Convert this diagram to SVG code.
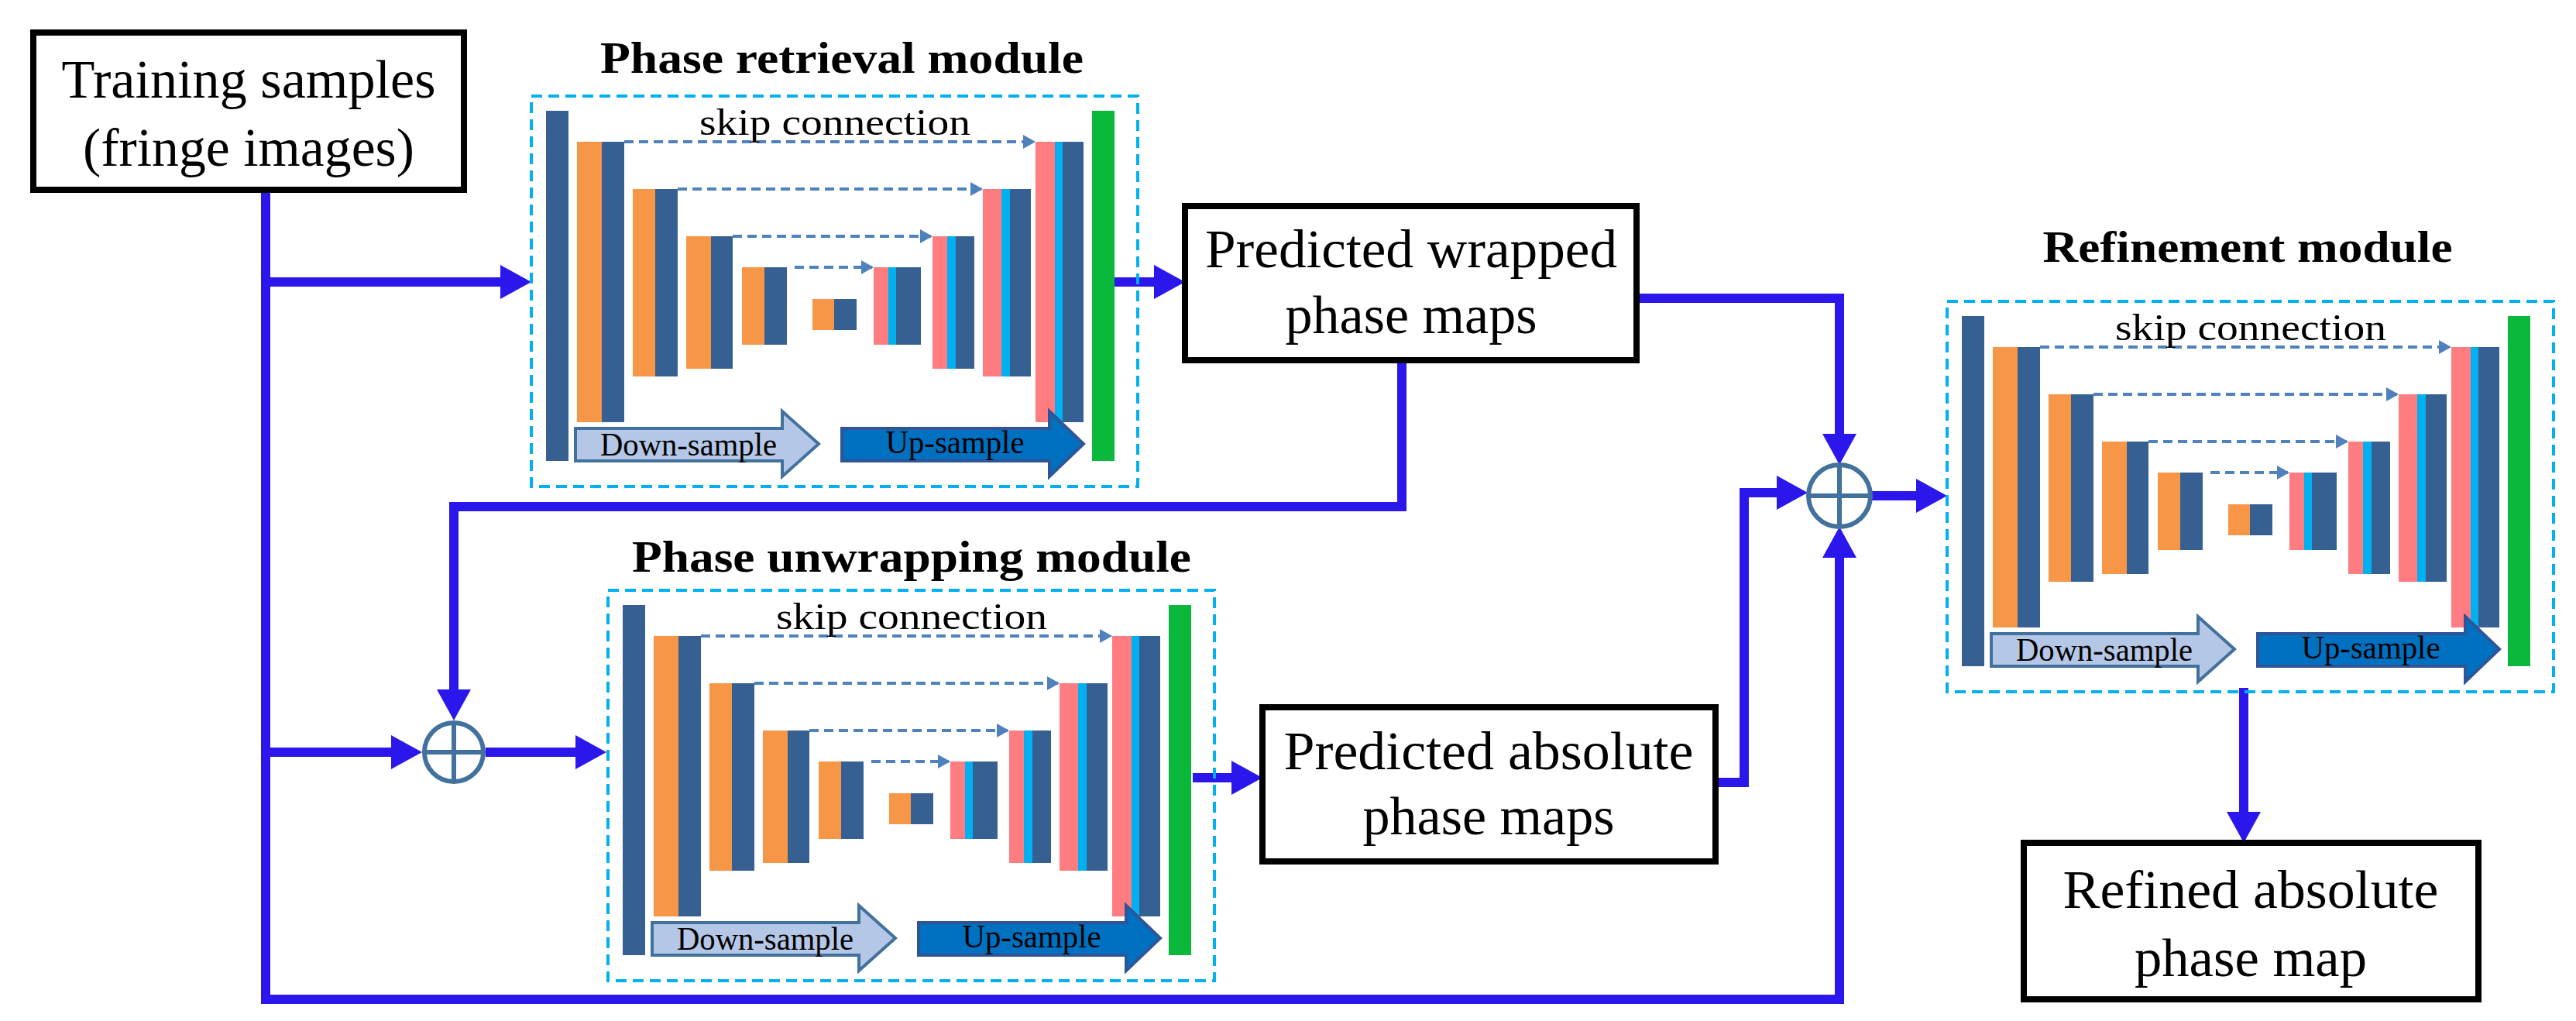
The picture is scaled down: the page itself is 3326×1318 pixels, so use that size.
<svg xmlns="http://www.w3.org/2000/svg" xmlns:xlink="http://www.w3.org/1999/xlink" width="3326" height="1318" viewBox="0 0 3326 1318">
<style>
.box{fill:#fff;stroke:#000;stroke-width:8}
text{font-family:"Liberation Serif",serif;text-anchor:middle;fill:#000}
.t{font-size:70px}
.title{font-size:58px;font-weight:bold}
.sk{font-size:48px}
.ds{font-size:42px}
.dk{fill:#376092}.or{fill:#f79646}.pk{fill:#ff7c80}.cy{fill:#00b0f0}.gr{fill:#0ab83c}
.skip{stroke:#4f81bd;stroke-width:4;stroke-dasharray:12 7;fill:none}
.conn{stroke:#2b17ec;stroke-width:12;fill:none}
.sum{fill:#fff;stroke:#41719c;stroke-width:6}
</style>
<defs>
<marker id="ah" markerUnits="userSpaceOnUse" markerWidth="40" markerHeight="44" refX="28" refY="22" orient="auto"><path d="M0,0 L40,22 L0,44 z" fill="#2b17ec"/></marker>
<marker id="sa" markerUnits="userSpaceOnUse" markerWidth="16" markerHeight="18" refX="14" refY="9" orient="auto"><path d="M0,0 L16,9 L0,18 z" fill="#4f81bd"/></marker>
<g id="unet">
<rect x="686" y="124" width="783" height="504" fill="none" stroke="#00b0f0" stroke-width="4" stroke-dasharray="14 8"/>
<rect class="dk" x="705" y="143" width="29" height="452"/>
<rect class="or" x="745" y="183" width="32" height="362"/><rect class="dk" x="777" y="183" width="29" height="362"/>
<rect class="or" x="817" y="244" width="29" height="242"/><rect class="dk" x="846" y="244" width="29" height="242"/>
<rect class="or" x="886" y="305" width="32" height="171"/><rect class="dk" x="918" y="305" width="28" height="171"/>
<rect class="or" x="958" y="345" width="29" height="100"/><rect class="dk" x="987" y="345" width="29" height="100"/>
<rect class="or" x="1049" y="386" width="28" height="40"/><rect class="dk" x="1077" y="386" width="29" height="40"/>
<rect class="pk" x="1128" y="345" width="19" height="100"/><rect class="cy" x="1147" y="345" width="10" height="100"/><rect class="dk" x="1157" y="345" width="32" height="100"/>
<rect class="pk" x="1204" y="305" width="19" height="171"/><rect class="cy" x="1223" y="305" width="11" height="171"/><rect class="dk" x="1234" y="305" width="24" height="171"/>
<rect class="pk" x="1269" y="244" width="24" height="242"/><rect class="cy" x="1293" y="244" width="11" height="242"/><rect class="dk" x="1304" y="244" width="27" height="242"/>
<rect class="pk" x="1337" y="183" width="25" height="362"/><rect class="cy" x="1362" y="183" width="10" height="362"/><rect class="dk" x="1372" y="183" width="27" height="362"/>
<rect class="gr" x="1410" y="143" width="29" height="452"/>
<path class="skip" d="M806,183 H1335" marker-end="url(#sa)"/>
<path class="skip" d="M875,244 H1267" marker-end="url(#sa)"/>
<path class="skip" d="M946,305 H1202" marker-end="url(#sa)"/>
<path class="skip" d="M1026,345 H1126" marker-end="url(#sa)"/>
<path d="M743,553 H1010 V531 L1057,573 L1010,615 V595 H743 Z" fill="#b4c7e7" stroke="#41719c" stroke-width="4"/>
<path d="M1087,553 H1355 V531 L1399,573 L1355,615 V595 H1087 Z" fill="#0070c0" stroke="#2f5597" stroke-width="4"/>
</g>
</defs>
<g id="connectors">
<path class="conn" d="M343,245 V1290 H2375 V692" marker-end="url(#ah)"/>
<path class="conn" d="M343,364 H674" marker-end="url(#ah)"/>
<path class="conn" d="M1439,364 H1518" marker-end="url(#ah)"/>
<path class="conn" d="M2113,385 H2375 V588" marker-end="url(#ah)"/>
<path class="conn" d="M1810,465 V654 H586 V918" marker-end="url(#ah)"/>
<path class="conn" d="M343,971 H533" marker-end="url(#ah)"/>
<path class="conn" d="M627,971 H771" marker-end="url(#ah)"/>
<path class="conn" d="M1540,1004 H1618" marker-end="url(#ah)"/>
<path class="conn" d="M2215,1010 H2252 V636 H2322" marker-end="url(#ah)"/>
<path class="conn" d="M2416,640 H2502" marker-end="url(#ah)"/>
<path class="conn" d="M2897,888 V1076" marker-end="url(#ah)"/>
</g>
<g id="sum1"><circle class="sum" cx="586" cy="971" r="38"/><path d="M548,971 H624 M586,933 V1009" stroke="#41719c" stroke-width="6"/></g>
<g id="sum2"><circle class="sum" cx="2375" cy="640" r="40"/><path d="M2335,640 H2415 M2375,600 V680" stroke="#41719c" stroke-width="6"/></g>
<g id="training"><rect class="box" x="43" y="42" width="556" height="203"/><text class="t" x="321" y="126" textLength="483" lengthAdjust="spacingAndGlyphs">Training samples</text><text class="t" x="321" y="214" textLength="428" lengthAdjust="spacingAndGlyphs">(fringe images)</text></g>
<g id="phase-retrieval">
<text class="title" x="1087" y="94" textLength="624" lengthAdjust="spacingAndGlyphs">Phase retrieval module</text>
<use xlink:href="#unet"/>
<text class="sk" x="1078" y="174" textLength="350" lengthAdjust="spacingAndGlyphs">skip connection</text>
<text class="ds" x="889" y="588" textLength="228" lengthAdjust="spacingAndGlyphs">Down-sample</text>
<text class="ds" x="1233" y="585" textLength="179" lengthAdjust="spacingAndGlyphs">Up-sample</text>
</g>
<g id="phase-unwrapping">
<text class="title" x="1177" y="738" textLength="722" lengthAdjust="spacingAndGlyphs">Phase unwrapping module</text>
<use xlink:href="#unet" transform="translate(99,638)"/>
<text class="sk" x="1177" y="812" textLength="350" lengthAdjust="spacingAndGlyphs">skip connection</text>
<text class="ds" x="988" y="1226" textLength="228" lengthAdjust="spacingAndGlyphs">Down-sample</text>
<text class="ds" x="1332" y="1223" textLength="179" lengthAdjust="spacingAndGlyphs">Up-sample</text>
</g>
<g id="wrapped"><rect class="box" x="1530" y="266" width="583" height="199"/><text class="t" x="1822" y="345" textLength="532" lengthAdjust="spacingAndGlyphs">Predicted wrapped</text><text class="t" x="1822" y="430" textLength="325" lengthAdjust="spacingAndGlyphs">phase maps</text></g>
<g id="absolute"><rect class="box" x="1630" y="913" width="585" height="199"/><text class="t" x="1922" y="993" textLength="529" lengthAdjust="spacingAndGlyphs">Predicted absolute</text><text class="t" x="1922" y="1077" textLength="325" lengthAdjust="spacingAndGlyphs">phase maps</text></g>
<g id="refinement">
<text class="title" x="2902" y="338" textLength="529" lengthAdjust="spacingAndGlyphs">Refinement module</text>
<use xlink:href="#unet" transform="translate(1828,265)"/>
<text class="sk" x="2906" y="439" textLength="350" lengthAdjust="spacingAndGlyphs">skip connection</text>
<text class="ds" x="2717" y="853" textLength="228" lengthAdjust="spacingAndGlyphs">Down-sample</text>
<text class="ds" x="3061" y="850" textLength="179" lengthAdjust="spacingAndGlyphs">Up-sample</text>
</g>
<g id="refined"><rect class="box" x="2613" y="1088" width="587" height="202"/><text class="t" x="2906" y="1172" textLength="485" lengthAdjust="spacingAndGlyphs">Refined absolute</text><text class="t" x="2906" y="1260" textLength="300" lengthAdjust="spacingAndGlyphs">phase map</text></g>
</svg>
